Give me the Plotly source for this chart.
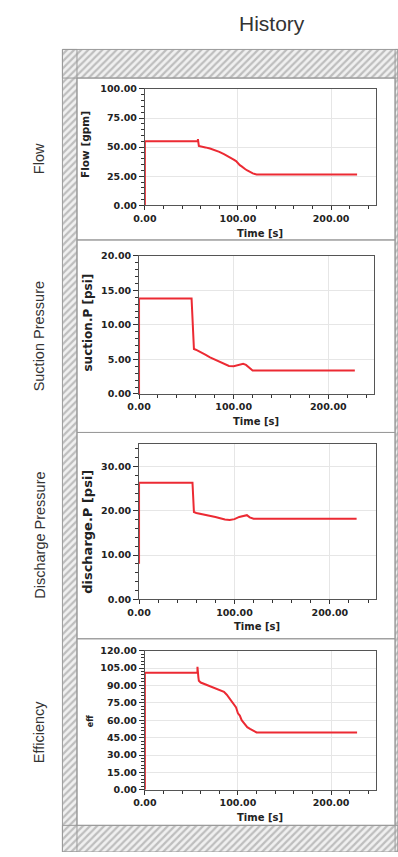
import plotly.graph_objects as go

# ---------------------------------------------------------------- data
time_flow = [0, 0, 57, 57, 58, 60, 65, 70, 75, 80, 85, 90, 95, 98, 100,
             102, 104, 106, 108, 110, 113, 116, 120, 228]
flow_gpm = [0, 55, 55, 57, 51, 50.5, 49.8, 48.8, 47.5, 46, 44, 42, 39.5, 38, 36,
            34.5, 33.5, 32, 31, 30, 28.5, 27.5, 26.5, 26.5]

time_suction = [0, 0, 55.5, 58, 60, 65, 70, 75, 80, 85, 90, 95, 100, 105, 110,
                113, 117, 120, 228]
suction_psi = [0, 13.8, 13.8, 6.5, 6.4, 6.1, 5.7, 5.3, 5.0, 4.6, 4.3, 4.05, 4.0,
               4.15, 4.35, 4.2, 3.8, 3.4, 3.4]

time_discharge = [0, 0, 56, 57.5, 60, 65, 70, 75, 80, 85, 90, 95, 100, 105, 110,
                  113, 116, 120, 228]
discharge_psi = [8, 26.3, 26.3, 19.7, 19.5, 19.3, 19.1, 18.9, 18.6, 18.3, 18.0,
                 17.9, 18.1, 18.6, 18.9, 19.0, 18.5, 18.2, 18.2]

time_eff = [0, 0, 56.5, 56.5, 57.5, 58, 60, 65, 70, 75, 80, 85, 88, 92, 95, 98,
            100, 102, 104, 106, 108, 110, 113, 116, 120, 228]
efficiency = [0, 101, 101, 106, 97, 94, 92.5, 91, 89.5, 88, 86.5, 84.5, 82, 78,
              75, 71, 66, 64, 60, 58, 56, 54, 52.5, 51, 49.5, 49.5]

panel_names = ["Flow", "Suction Pressure", "Discharge Pressure", "Efficiency"]
y_titles = ["Flow [gpm]", "suction.P [psi]", "discharge.P [psi]", "eff"]
y_ranges = [[0, 100], [0, 20], [0, 35], [0, 120]]
y_dticks = [25, 5, 10, 15]
y_minor = [5, 1, 2, 3]
x_range = [0, 248]
x_ticks = [0, 100, 200]

# ---------------------------------------------------------------- layout geometry (pixels)
W, H = 398, 857
# plot boxes: left, right, top, bottom
boxes = [(137, 375, 84, 202), (131, 373, 253, 393),
         (131, 375, 444, 601), (137, 375, 653, 794)]
# white panels: top, bottom
panel_rows = [(73, 237), (237, 432), (432, 641), (641, 830)]
panel_left, panel_right = 67, 395
frame = (52, 398, 44, 857)
ytitle_pos = [(75, 140, 10.5), (78, 321, 12), (77, 533, 13), (81, 725, 8)]

RED = "#ec2a33"
TICK_FONT = dict(family="DejaVu Sans", size=9.5, color="#222", weight="bold")


def px(x):
    return x / W


def py(y):
    return 1 - y / H


series = [(time_flow, flow_gpm), (time_suction, suction_psi),
          (time_discharge, discharge_psi), (time_eff, efficiency)]

fig = go.Figure()

# hatched frame around the stacked panels, on a full-page pixel axis (x/y)
fl, fr, ft, fb = frame
strips = [
    (fl, fr, ft, panel_rows[0][0]),
    (fl, fr, panel_rows[-1][1], fb),
    (fl, panel_left, ft, fb),
    (panel_right, fr, ft, fb),
]
hx, hy = [], []
for x0, x1, y0, y1 in strips:
    hx += [x0, x1, x1, x0, x0, None]
    hy += [y0, y0, y1, y1, y0, None]
fig.add_trace(go.Scatter(
    x=hx, y=hy, xaxis="x", yaxis="y", mode="lines", fill="toself",
    line=dict(color="#9a9a9a", width=1),
    fillcolor="#eeeeee",
    fillpattern=dict(shape="/", size=5, solidity=0.45,
                     fgcolor="#8c8c8c", bgcolor="#f0f0f0"),
    hoverinfo="skip", showlegend=False))

layout = dict(
    width=W, height=H, margin=dict(l=0, r=0, t=0, b=0),
    paper_bgcolor="white", plot_bgcolor="rgba(0,0,0,0)", showlegend=False,
    xaxis=dict(domain=[0, 1], range=[0, W], visible=False, fixedrange=True),
    yaxis=dict(domain=[0, 1], range=[H, 0], visible=False, fixedrange=True),
)

annotations = [dict(text="History", x=px(268), y=py(18), xref="paper", yref="paper",
                    showarrow=False, font=dict(family="Liberation Sans", size=21, color="#333"),
                    xanchor="center", yanchor="middle")]
shapes = []

for i, ((t, v), (l, r, top, bot)) in enumerate(zip(series, boxes)):
    n = i + 2
    xa, ya = f"x{n}", f"y{n}"
    fig.add_trace(go.Scatter(x=t, y=v, xaxis=xa, yaxis=ya, mode="lines",
                             line=dict(color=RED, width=2), showlegend=False))
    common = dict(showline=True, linecolor="#555", linewidth=1, mirror=True,
                  ticks="outside", tickcolor="#333", tickfont=TICK_FONT,
                  tickformat=".2f", showgrid=True, gridcolor="#e6e6e6",
                  zeroline=False, fixedrange=True)
    layout[f"xaxis{n}"] = dict(
        domain=[px(l), px(r)], anchor=ya, range=x_range,
        tickvals=x_ticks, ticklen=4,
        minor=dict(dtick=20, tick0=0, ticklen=3, ticks="outside", tickcolor="#333"),
        **common)
    layout[f"yaxis{n}"] = dict(
        domain=[py(bot), py(top)], anchor=xa, range=y_ranges[i],
        dtick=y_dticks[i], tick0=0, ticklen=5,
        minor=dict(dtick=y_minor[i], tick0=0, ticklen=3, ticks="outside", tickcolor="#333"),
        **common)

    # x-axis title
    annotations.append(dict(text="Time [s]", x=px((l + r) / 2), y=py(bot + 28),
                            xref="paper", yref="paper", showarrow=False,
                            font=dict(family="DejaVu Sans", size=10, color="#222", weight="bold"),
                            xanchor="center", yanchor="middle"))
    # y-axis title
    tx, ty, fs = ytitle_pos[i]
    annotations.append(dict(text=y_titles[i], x=px(tx), y=py(ty), xref="paper", yref="paper",
                            showarrow=False, textangle=-90,
                            font=dict(family="DejaVu Sans", size=fs, color="#222", weight="bold"),
                            xanchor="center", yanchor="middle"))
    # row label on the left
    p0, p1 = panel_rows[i]
    annotations.append(dict(text=panel_names[i], x=px(28), y=py((p0 + p1) / 2),
                            xref="paper", yref="paper", showarrow=False, textangle=-90,
                            font=dict(family="Liberation Sans", size=14.5, color="#333"),
                            xanchor="center", yanchor="middle"))
    # panel border
    shapes.append(dict(type="rect", xref="x", yref="y", x0=panel_left, x1=panel_right,
                       y0=p0, y1=p1, line=dict(color="#9a9a9a", width=1), layer="above"))

layout["annotations"] = annotations
layout["shapes"] = shapes
fig.update_layout(**layout)

# keep the figure flush with the page corner
fig.write_html("out.html",
               post_script="document.body.style.margin='0';"
                           "document.body.style.overflow='hidden';")
